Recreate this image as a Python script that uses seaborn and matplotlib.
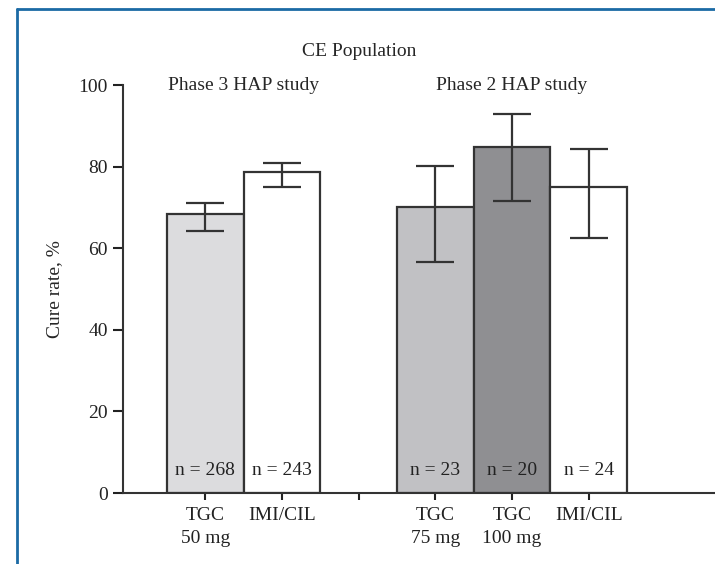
import numpy as np
import pandas as pd
import matplotlib
matplotlib.use("Agg")
import matplotlib.pyplot as plt
import seaborn as sns

# --- data ---
bar_pos = [0, 1, 3, 4, 5]
bar_names = ["TGC 50 mg", "IMI/CIL (Phase 3)", "TGC 75 mg", "TGC 100 mg", "IMI/CIL (Phase 2)"]
cure_rate = [68.4, 78.7, 70.1, 84.8, 75.0]
ci_low = [64.2, 75.0, 56.6, 71.6, 62.5]
ci_high = [71.1, 80.9, 80.1, 92.9, 84.3]
n_labels = ["n = 268", "n = 243", "n = 23", "n = 20", "n = 24"]
bar_colors = ["#dcdcde", "#ffffff", "#c1c1c4", "#8f8f92", "#ffffff"]

tick_pos = [0, 1, 2, 3, 4, 5]
tick_labels = ["TGC\n50 mg", "IMI/CIL", "", "TGC\n75 mg", "TGC\n100 mg", "IMI/CIL"]

df = pd.DataFrame({"pos": bar_pos, "name": bar_names, "cure": cure_rate,
                   "lo": ci_low, "hi": ci_high})

sns.set_style("ticks")
plt.rcParams["font.family"] = ["Liberation Serif", "DejaVu Serif"]
plt.rcParams["font.size"] = 14

ink = "#333333"
fig = plt.figure(figsize=(7.15, 5.64), dpi=100)
ax = fig.add_axes([123 / 715, 71 / 564, 1 - 123 / 715, 408 / 564])

sns.barplot(data=df, x="pos", y="cure", hue="name", palette=bar_colors,
            native_scale=True, dodge=False, width=1.0, legend=False,
            edgecolor=ink, linewidth=1.6, errorbar=None, ax=ax)

# error bars from the reported intervals
yerr = np.array([df["cure"] - df["lo"], df["hi"] - df["cure"]])
ax.errorbar(df["pos"], df["cure"], yerr=yerr, fmt="none", ecolor=ink,
            elinewidth=1.6, capsize=14, capthick=1.6, zorder=5)

# sample sizes at the foot of each bar
for x, lab in zip(bar_pos, n_labels):
    ax.text(x, 5.4, lab, ha="center", va="center", fontsize=14, color="#222222")

ax.set_xlim(-1.073, 6.645)
ax.set_ylim(0, 100)
ax.set_xticks(tick_pos)
ax.set_xticklabels(tick_labels)
for t in ax.get_xticklabels():
    t.set_linespacing(1.5)
ax.set_yticks([0, 20, 40, 60, 80, 100])
ax.set_xlabel("")
ax.set_ylabel("Cure rate, %", fontsize=14, labelpad=11)

ax.tick_params(axis="y", length=7, width=1.5, pad=4, colors="#222222")
ax.tick_params(axis="x", length=5, width=1.5, pad=5, colors="#222222")
for side in ["left", "bottom"]:
    ax.spines[side].set_linewidth(1.5)
    ax.spines[side].set_color(ink)
sns.despine(ax=ax)

# titles above the groups
ax.text(2, 108.3, "CE Population", ha="center", va="center", fontsize=14, clip_on=False)
ax.text(0.5, 100, "Phase 3 HAP study", ha="center", va="center", fontsize=14, clip_on=False)
ax.text(4, 100, "Phase 2 HAP study", ha="center", va="center", fontsize=14, clip_on=False)

# blue frame on the left and top
frame_col = "#1b6aa5"
fig.add_artist(plt.Line2D([17 / 715, 17 / 715], [0, 1 - 9 / 564], color=frame_col, lw=2))
fig.add_artist(plt.Line2D([17 / 715, 1], [1 - 9 / 564, 1 - 9 / 564], color=frame_col, lw=2))

fig.savefig("out.png", dpi=100)
